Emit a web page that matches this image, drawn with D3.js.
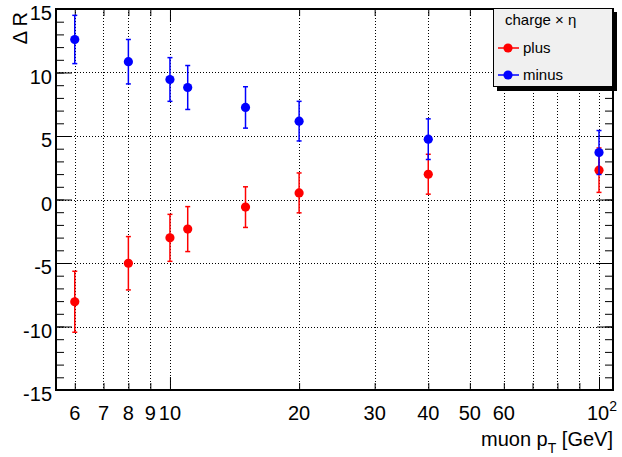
<!DOCTYPE html>
<html>
<head>
<meta charset="utf-8">
<script src="https://cdn.jsdelivr.net/npm/d3@7"></script>
<style>
body { margin: 0; background: #fff; }
svg { display: block; font-family: "Liberation Sans", Arial, Helvetica, sans-serif; }
</style>
</head>
<body>
<svg id="chart" width="622" height="457"></svg>
<script>
// ---- data ----
const ptValues = [6, 8, 10, 11, 15, 20, 40, 100];
const plusValues = [-8.05, -5.02, -3.02, -2.33, -0.60, 0.52, 1.99, 2.31];
const plusErrors = [2.4, 2.1, 1.85, 1.77, 1.6, 1.57, 1.57, 1.75];
const minusValues = [12.6, 10.85, 9.45, 8.82, 7.25, 6.17, 4.75, 3.7];
const minusErrors = [1.9, 1.75, 1.72, 1.73, 1.63, 1.56, 1.6, 1.73];
const xTickValues = [6, 7, 8, 9, 10, 20, 30, 40, 50, 60, 70, 80, 90, 100];
const xTickLabels = ["6", "7", "8", "9", "10", "20", "30", "40", "50", "60", "", "", "", "10^2"];
const yTickValues = [-15, -10, -5, 0, 5, 10, 15];
const seriesNames = ["plus", "minus"];
const seriesColors = ["#ff0000", "#0000ff"];
const legendTitle = "charge \u00d7 \u03b7";
const xTitle = ["muon p", "T", " [GeV]"];
const yTitle = "\u0394 R";

const L = 56, R = 613, T = 9, B = 390;
const svg = d3.select("#chart");
const x = d3.scaleLog().domain([5.425, 107.8]).range([L, R]);
const y = d3.scaleLinear().domain([-15, 15]).range([B, T]);

// grid
const grid = svg.append("g");
xTickValues.forEach(v => {
  const px = Math.round(x(v)) + 0.5;
  grid.append("line").attr("x1", px).attr("x2", px).attr("y1", T).attr("y2", B)
    .attr("stroke", "#000").attr("stroke-width", 1).attr("stroke-dasharray", "1,2");
});
yTickValues.forEach(v => {
  const py = Math.round(y(v)) + 0.5;
  grid.append("line").attr("x1", L).attr("x2", R).attr("y1", py).attr("y2", py)
    .attr("stroke", "#000").attr("stroke-width", 1).attr("stroke-dasharray", "1,2");
});

// axes (ticks inward) using d3 axes
const yMinor = d3.range(-15, 15.001, 1);
const axL = d3.axisRight(y).tickValues(yMinor).tickSize(8).tickFormat("");
const gL = svg.append("g").attr("transform", `translate(${L},0)`).call(axL);
const axLmaj = d3.axisRight(y).tickValues(yTickValues).tickSize(16).tickFormat("");
svg.append("g").attr("transform", `translate(${L},0)`).call(axLmaj);
const axR = d3.axisLeft(y).tickValues(yMinor).tickSize(8).tickFormat("");
svg.append("g").attr("transform", `translate(${R},0)`).call(axR);
const axRmaj = d3.axisLeft(y).tickValues(yTickValues).tickSize(16).tickFormat("");
svg.append("g").attr("transform", `translate(${R},0)`).call(axRmaj);
const xMinorVals = xTickValues.filter(v => v !== 10 && v !== 100);
svg.append("g").attr("transform", `translate(0,${B})`)
  .call(d3.axisTop(x).tickValues(xMinorVals).tickSize(7).tickFormat(""));
svg.append("g").attr("transform", `translate(0,${B})`)
  .call(d3.axisTop(x).tickValues([10, 100]).tickSize(13).tickFormat(""));
svg.append("g").attr("transform", `translate(0,${T})`)
  .call(d3.axisBottom(x).tickValues(xMinorVals).tickSize(7).tickFormat(""));
svg.append("g").attr("transform", `translate(0,${T})`)
  .call(d3.axisBottom(x).tickValues([10, 100]).tickSize(13).tickFormat(""));
svg.selectAll(".domain").remove();
svg.selectAll(".tick line").attr("stroke", "#000").attr("stroke-width", 1);

// frame
svg.append("rect").attr("x", L).attr("y", T).attr("width", R - L).attr("height", B - T)
  .attr("fill", "none").attr("stroke", "#000").attr("stroke-width", 2);

// tick labels
yTickValues.forEach(v => {
  svg.append("text").attr("x", 52).attr("y", y(v) + 11).attr("text-anchor", "end")
    .attr("font-size", 20).attr("fill", "#000").text(v);
});
xTickValues.forEach((v, i) => {
  const lab = xTickLabels[i];
  if (!lab) return;
  if (lab === "10^2") {
    const t = svg.append("text").attr("x", x(v) + 3).attr("y", B + 30).attr("text-anchor", "middle")
      .attr("font-size", 20).attr("fill", "#000");
    t.append("tspan").text("10");
    t.append("tspan").attr("font-size", 14).attr("dy", -9).text("2");
  } else {
    svg.append("text").attr("x", x(v)).attr("y", B + 30).attr("text-anchor", "middle")
      .attr("font-size", 20).attr("fill", "#000").text(lab);
  }
});

// axis titles
const xt = svg.append("text").attr("x", R).attr("y", 446).attr("text-anchor", "end")
  .attr("font-size", 20).attr("fill", "#000");
xt.append("tspan").text(xTitle[0]);
xt.append("tspan").attr("font-size", 14).attr("dy", 7).text(xTitle[1]);
xt.append("tspan").attr("dy", -7).text(xTitle[2]);

svg.append("text").attr("transform", "translate(27,12) rotate(-90)")
  .attr("text-anchor", "end").attr("font-size", 20).attr("fill", "#000").text(yTitle);

// data
const series = [
  { name: seriesNames[0], color: seriesColors[0], vals: plusValues, errs: plusErrors },
  { name: seriesNames[1], color: seriesColors[1], vals: minusValues, errs: minusErrors }
];
series.forEach(s => {
  const g = svg.append("g");
  ptValues.forEach((pt, i) => {
    const px = x(pt), v = s.vals[i], e = s.errs[i];
    g.append("line").attr("x1", px).attr("x2", px).attr("y1", y(v + e)).attr("y2", y(v - e))
      .attr("stroke", s.color).attr("stroke-width", 1.5);
    [v + e, v - e].forEach(ev => {
      g.append("line").attr("x1", px - 2.5).attr("x2", px + 2.5).attr("y1", y(ev)).attr("y2", y(ev))
        .attr("stroke", s.color).attr("stroke-width", 1.5);
    });
    g.append("circle").attr("cx", px).attr("cy", y(v)).attr("r", 4.6).attr("fill", s.color);
  });
});

// legend
const lg = svg.append("g");
lg.append("rect").attr("x", 497).attr("y", 12).attr("width", 120).attr("height", 79).attr("fill", "#000");
lg.append("rect").attr("x", 493.5).attr("y", 8.5).attr("width", 119).attr("height", 78)
  .attr("fill", "#f0f0f0").attr("stroke", "#000").attr("stroke-width", 1);
lg.append("text").attr("x", 505).attr("y", 25).attr("font-size", 15).attr("fill", "#000").text(legendTitle);
series.forEach((s, i) => {
  const cy = 48 + i * 27;
  lg.append("line").attr("x1", 498).attr("x2", 519).attr("y1", cy).attr("y2", cy)
    .attr("stroke", s.color).attr("stroke-width", 1.5);
  lg.append("circle").attr("cx", 508).attr("cy", cy).attr("r", 4.6).attr("fill", s.color);
  lg.append("text").attr("x", 523).attr("y", cy + 5).attr("font-size", 15).attr("fill", "#000").text(s.name);
});
</script>
</body>
</html>
